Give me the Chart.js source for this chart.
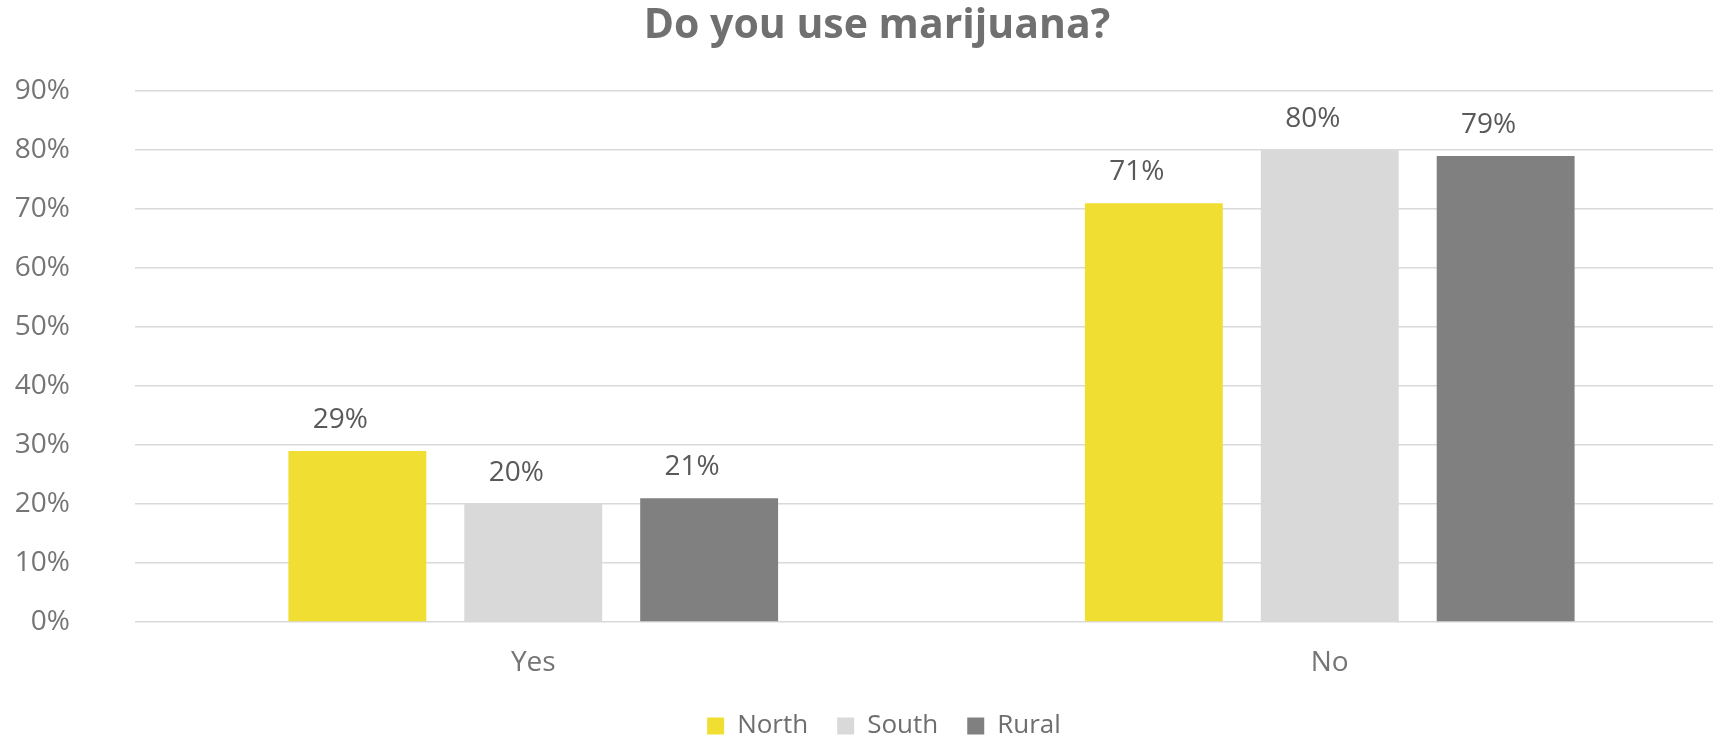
<!DOCTYPE html>
<html>
<head>
<meta charset="utf-8">
<title>Do you use marijuana?</title>
<script src="https://cdn.jsdelivr.net/npm/chart.js@4.4.1/dist/chart.umd.min.js"></script>
<style>
  html, body { margin: 0; padding: 0; background: #fff; overflow: hidden; }
  #chart { display: block; }
</style>
</head>
<body>
<canvas id="chart" width="1728" height="749"></canvas>
<script>
// values (percent)
const categories = ['Yes', 'No'];
const north = [29, 71];
const south = [20, 80];
const rural = [21, 79];
const yTicks = [0, 10, 20, 30, 40, 50, 60, 70, 80, 90];

const FONT = "'Open Sans', 'DejaVu Sans', sans-serif";

// draws the % value above every bar (excel put them a little left of centre)
const valueLabels = {
  id: 'valueLabels',
  afterDatasetsDraw(chart) {
    const ctx = chart.ctx;
    ctx.save();
    ctx.font = '28px ' + FONT;
    ctx.fillStyle = '#595959';
    ctx.textAlign = 'center';
    ctx.textBaseline = 'middle';
    chart.data.datasets.forEach((ds, i) => {
      chart.getDatasetMeta(i).data.forEach((bar, j) => {
        ctx.fillText(ds.data[j] + '%', bar.x - 17, bar.y - 31);
      });
    });
    ctx.restore();
  }
};

// small layout nudges: let y labels use the left padding, move legend a bit right
const nudge = {
  id: 'nudge',
  afterLayout(chart) {
    chart.scales.y.left = 0;
    chart.legend.left += 7;
    chart.legend.right += 7;
  }
};

const ctx = document.getElementById('chart').getContext('2d');
new Chart(ctx, {
  type: 'bar',
  data: {
    labels: categories,
    datasets: [
      { label: 'North', data: north, backgroundColor: '#F0DF32', borderWidth: 0 },
      { label: 'South', data: south, backgroundColor: '#D9D9D9', borderWidth: 0 },
      { label: 'Rural', data: rural, backgroundColor: '#808080', borderWidth: 0 }
    ]
  },
  options: {
    responsive: false,
    animation: false,
    devicePixelRatio: 1,
    categoryPercentage: 0.6625,
    barPercentage: 0.784,
    layout: { padding: { left: 26, right: 0, top: 0, bottom: 0 } },
    plugins: {
      title: {
        display: true,
        text: 'Do you use marijuana?',
        color: '#707070',
        font: { family: FONT, size: 41, weight: 'bold' },
        padding: { top: 2, bottom: 40 }
      },
      legend: {
        position: 'bottom',
        labels: {
          color: '#6e6e6e',
          font: { family: FONT, size: 26 },
          boxWidth: 17,
          boxHeight: 17,
          padding: 29
        }
      },
      tooltip: { enabled: false }
    },
    scales: {
      x: {
        grid: { display: false, drawTicks: false },
        border: { display: false },
        ticks: { color: '#757575', font: { family: FONT, size: 28 }, padding: 24 },
        afterFit: s => { s.height = 62; }
      },
      y: {
        min: 0,
        max: 90,
        afterBuildTicks: s => { s.ticks = yTicks.map(v => ({ value: v })); },
        grid: { color: '#D9D9D9', lineWidth: 1.5, drawTicks: false },
        border: { display: false },
        ticks: {
          color: '#757575',
          font: { family: FONT, size: 28 },
          padding: 65,
          callback: v => v + '%'
        },
        afterFit: s => { s.width = 109; }
      }
    }
  },
  plugins: [valueLabels, nudge]
});
</script>
</body>
</html>
